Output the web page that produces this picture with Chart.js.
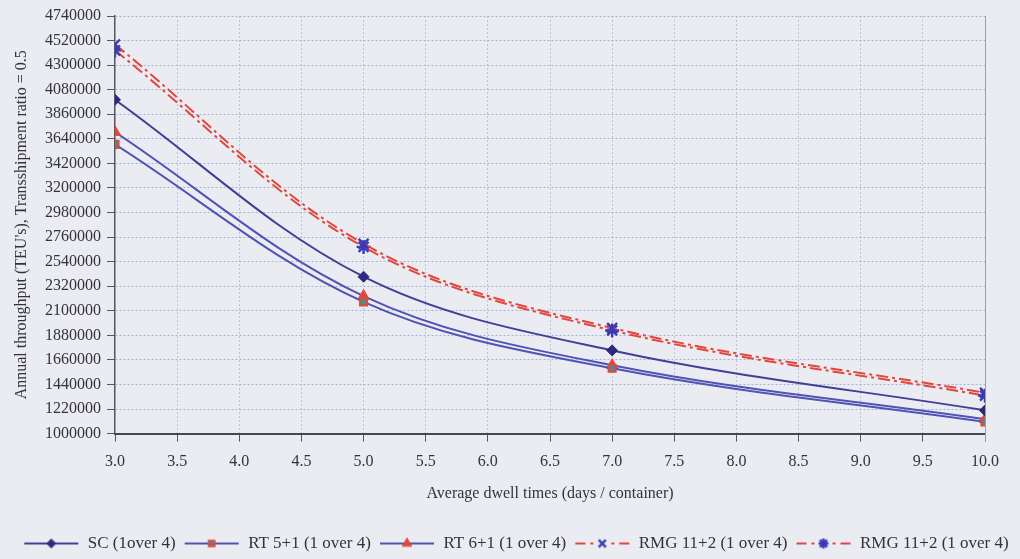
<!DOCTYPE html>
<html>
<head>
<meta charset="utf-8">
<script src="https://cdn.jsdelivr.net/npm/chart.js@4"></script>
<style>
  html, body { margin: 0; padding: 0; background: #eaecf2; }
  #wrap { width: 1020px; height: 559px; }
</style>
</head>
<body>
<div id="wrap"><canvas id="c" width="1020" height="559"></canvas></div>
<script>
// Average dwell time (days / container)
const dwellTimes = [3, 5, 7, 10];

// Annual throughput (TEU's) per handling system
const scOneOver4   = [3990000, 2405000, 1745000, 1208000];
const rt51OneOver4 = [3590000, 2180000, 1585000, 1105000];
const rt61OneOver4 = [3700000, 2232000, 1612000, 1128000];
const rmgCross     = [4485000, 2700000, 1946000, 1366000];
const rmgStar      = [4432000, 2672000, 1924000, 1340000];

const seriesNames = [
  'SC (1over 4)',
  'RT 5+1 (1 over 4)',
  'RT 6+1 (1 over 4)',
  'RMG 11+2 (1 over 4)',
  'RMG 11+2 (1 over 4)'
];

// Axis ranges and tick steps
const yMin = 1000000, yMax = 4740000, yStep = 220000;
const xMin = 3, xMax = 10, xStep = 0.5;

const FONT = '"Liberation Serif", "DejaVu Serif", serif';
const TEXT = '#333338';
const RED = '#e2463e';
const BLUE_MARK = '#3a3ab4';

const styles = [
  { line: '#433f96', dash: [], point: 'rectRot', radius: 5.5, fill: '#2c2a7c', stroke: '#2c2a7c', pw: 1 },
  { line: '#5153b4', dash: [], point: 'rect', radius: 5, fill: '#4d8c8a', stroke: RED, pw: 2 },
  { line: '#5153b4', dash: [], point: 'triangle', radius: 6.5, fill: RED, stroke: RED, pw: 1 },
  { line: RED, dash: [12, 4, 3, 4], point: 'crossRot', radius: 7, fill: BLUE_MARK, stroke: BLUE_MARK, pw: 2.4 },
  { line: RED, dash: [12, 4, 3, 4], point: 'star', radius: 7, fill: BLUE_MARK, stroke: BLUE_MARK, pw: 2.4 }
];

const values = [scOneOver4, rt51OneOver4, rt61OneOver4, rmgCross, rmgStar];

const SW = 56; // legend swatch width

// Legend swatches: line sample with the marker in the middle
function makeSwatch(s) {
  const w = SW, h = 16, m = 1;
  const cv = document.createElement('canvas');
  cv.width = w; cv.height = h;
  const g = cv.getContext('2d');
  g.strokeStyle = s.line;
  g.lineWidth = 2;
  if (s.dash.length) {
    const segs = [[m, m + 10], [m + 15, m + 18], [w - m - 18, w - m - 15], [w - m - 10, w - m]];
    segs.forEach(([a, b]) => { g.beginPath(); g.moveTo(a, h / 2); g.lineTo(b, h / 2); g.stroke(); });
  } else {
    g.beginPath(); g.moveTo(m, h / 2); g.lineTo(w - m, h / 2); g.stroke();
  }
  g.fillStyle = s.fill;
  g.strokeStyle = s.stroke;
  g.lineWidth = s.pw;
  const r = s.point === 'star' || s.point === 'crossRot' ? s.radius - 2 : s.radius - 1;
  Chart.helpers.drawPoint(g, { pointStyle: s.point, radius: r, rotation: 0, borderWidth: s.pw }, w / 2, h / 2);
  return cv;
}

const datasets = values.map((vals, i) => {
  const s = styles[i];
  return {
    label: seriesNames[i],
    data: dwellTimes.map((x, k) => ({ x: x, y: vals[k] })),
    borderColor: s.line,
    borderWidth: 2,
    borderDash: s.dash,
    tension: 0.35,
    pointStyle: s.point,
    pointRadius: s.radius,
    pointBackgroundColor: s.fill,
    pointBorderColor: s.stroke,
    pointBorderWidth: s.pw,
    fill: false
  };
});

const background = {
  id: 'background',
  beforeDraw(chart) {
    const { ctx, width, height } = chart;
    ctx.save();
    ctx.fillStyle = '#eaecf2';
    ctx.fillRect(0, 0, width, height);
    ctx.restore();
  },
  afterDraw(chart) {
    const { ctx, chartArea } = chart;
    ctx.save();
    ctx.strokeStyle = '#9a9ca6';
    ctx.lineWidth = 1;
    ctx.beginPath();
    ctx.moveTo(chartArea.right + 0.5, chartArea.top);
    ctx.lineTo(chartArea.right + 0.5, chartArea.bottom + 8);
    ctx.stroke();
    ctx.restore();
  }
};

new Chart(document.getElementById('c'), {
  type: 'line',
  data: { datasets },
  plugins: [background],
  options: {
    responsive: false,
    animation: false,
    layout: { padding: { left: 12, right: 0, top: 16, bottom: -3 } },
    plugins: {
      tooltip: { enabled: false },
      legend: {
        position: 'bottom',
        labels: {
          usePointStyle: true,
          pointStyleWidth: SW,
          padding: 8,
          color: TEXT,
          font: { family: FONT, size: 17 },
          generateLabels(chart) {
            return chart.data.datasets.map((d, i) => ({
              text: d.label,
              pointStyle: makeSwatch(styles[i]),
              fillStyle: 'transparent',
              strokeStyle: 'transparent',
              lineWidth: 0,
              fontColor: TEXT,
              hidden: false,
              datasetIndex: i
            }));
          }
        }
      }
    },
    scales: {
      x: {
        type: 'linear',
        min: xMin,
        max: xMax,
        ticks: {
          stepSize: xStep,
          color: TEXT,
          font: { family: FONT, size: 16 },
          padding: 11,
          callback: v => Number(v).toFixed(1)
        },
        grid: {
          color: c => (c.tick && (c.tick.value === xMin || c.tick.value === xMax)) ? 'rgba(0,0,0,0)' : '#b4c4df',
          lineWidth: 1,
          tickLength: 8,
          tickColor: '#55565e'
        },
        border: { display: true, color: '#45464e', width: 2, dash: [2, 2] },
        title: {
          display: true,
          text: 'Average dwell times (days / container)',
          color: TEXT,
          font: { family: FONT, size: 16 },
          padding: { top: 1, bottom: 24 }
        }
      },
      y: {
        min: yMin,
        max: yMax,
        ticks: {
          stepSize: yStep,
          autoSkip: false,
          color: TEXT,
          font: { family: FONT, size: 16 },
          padding: 6,
          callback: v => String(v)
        },
        grid: {
          color: c => (c.tick && c.tick.value === yMin) ? 'rgba(0,0,0,0)' : '#9fb6da',
          lineWidth: 1,
          tickLength: 8,
          tickColor: '#55565e'
        },
        border: { display: true, color: '#55565e', width: 1.5, dash: [2, 2] },
        title: {
          display: true,
          text: "Annual throughput (TEU's), Transshipment ratio = 0.5",
          color: TEXT,
          font: { family: FONT, size: 16 },
          padding: { top: 0, bottom: 4 }
        },
        afterFit(scale) { scale.width = 103; }
      },
      // empty right-hand gutter so the plot ends at 10.0 while the legend keeps the full width
      gutter: {
        type: 'linear',
        position: 'right',
        display: true,
        grid: { display: false, drawTicks: false },
        border: { display: false },
        ticks: { display: false },
        afterFit(scale) { scale.width = 35; }
      }
    }
  }
});
</script>
</body>
</html>
